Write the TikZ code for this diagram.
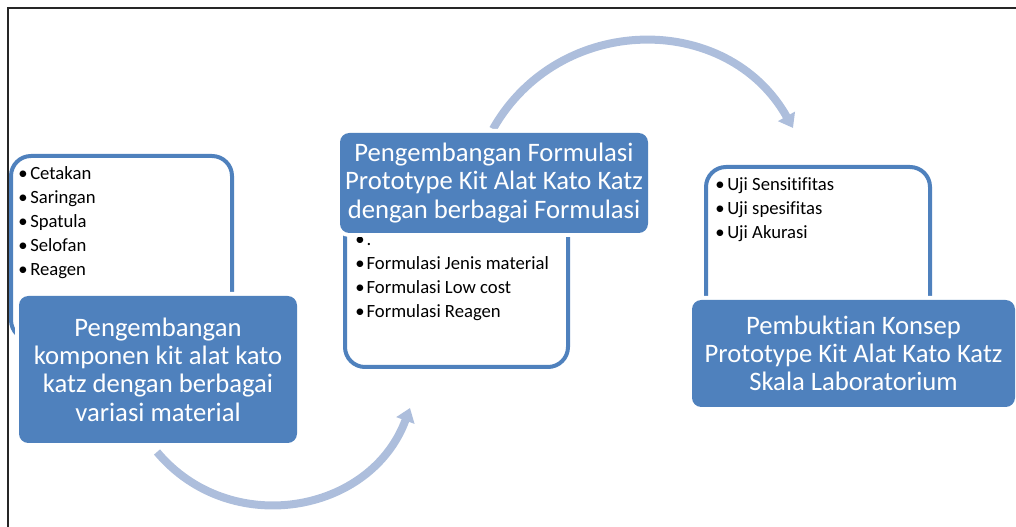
\documentclass[tikz,border=0pt]{standalone}
\usepackage{fontspec}
\setmainfont{Carlito}[Ligatures=CommonOff]
\usetikzlibrary{arrows.meta}
\definecolor{mblue}{RGB}{79,129,189}
\definecolor{arcblue}{RGB}{173,190,220}
\definecolor{framegray}{RGB}{38,38,38}
\begin{document}
\begin{tikzpicture}[x=0.75pt,y=0.75pt,
  titlebox/.style={fill=mblue, rounded corners=7pt, preaction={draw=white, line width=6pt},
    text=white, align=center, font=\fontsize{20}{21.2}\selectfont, inner sep=0pt},
  listbox/.style={draw=mblue, fill=white, line width=3pt, rounded corners=15pt, inner sep=0pt},
  bul/.style={anchor=base west, inner sep=0pt, font=\fontsize{14}{18}\selectfont},
  arcarrow/.style={draw=arcblue, line width=6pt, -{Triangle[width=14pt,length=10pt]}},
  frameline/.style={draw=framegray, line width=1.5pt}]
\useasboundingbox (0,0) rectangle (1016,527);

% arc arrows
\coordinate (a1s) at (157,75);
\coordinate (a1e) at (410,119);
\coordinate (a2s) at (493,398);
\coordinate (a2e) at (793,399);
\draw[arcarrow] (a1s) to[out=310, in=249.7, looseness=1.13] (a1e);
\draw[arcarrow] (a2s) to[out=60.5, in=119.3, looseness=1.14] (a2e);

% list boxes
\node[listbox, minimum width=165.75pt, minimum height=138pt] (lb1) at (121.5,279) {};
\node[listbox, minimum width=167.25pt, minimum height=125.25pt] (lb2) at (456.5,243.5) {};
\node[listbox, minimum width=168pt, minimum height=129.75pt] (lb3) at (818,273.5) {};

% bullet texts
\foreach \t [count=\i] in {Cetakan,Saringan,Spatula,Selofan,Reagen}
  \node[bul] (b1\i) at (18,{347-24*(\i-1)}) {\makebox[9pt][l]{•}\t};
\foreach \t [count=\i] in {.,Formulasi Jenis material,Formulasi Low cost,Formulasi Reagen}
  \node[bul] (b2\i) at (355,{281-24*(\i-1)}) {\makebox[8.5pt][l]{•}\t};
\foreach \t [count=\i] in {Uji Sensitifitas,Uji spesifitas,Uji Akurasi}
  \node[bul] (b3\i) at (715,{336-24*(\i-1)}) {\makebox[9pt][l]{•}\t};

% title boxes
\node[titlebox, minimum width=208.5pt, minimum height=110.25pt] (t1) at (158,157.5)
  {Pengembangan\\komponen kit alat kato\\katz dengan berbagai\\variasi material};
\node[titlebox, minimum width=231pt, minimum height=75pt] (t2) at (494,344)
  {Pengembangan Formulasi\\Prototype Kit Alat Kato Katz\\dengan berbagai Formulasi};
\node[titlebox, minimum width=242.25pt, minimum height=80.25pt] (t3) at (853.5,173.5)
  {Pembuktian Konsep\\Prototype Kit Alat Kato Katz\\Skala Laboratorium};

% frame
\coordinate (f1) at (8,0);
\coordinate (f2) at (8,519);
\coordinate (f3) at (1016,519);
\draw[frameline] (f1) -- (f2) -- (f3);
\end{tikzpicture}
\end{document}
